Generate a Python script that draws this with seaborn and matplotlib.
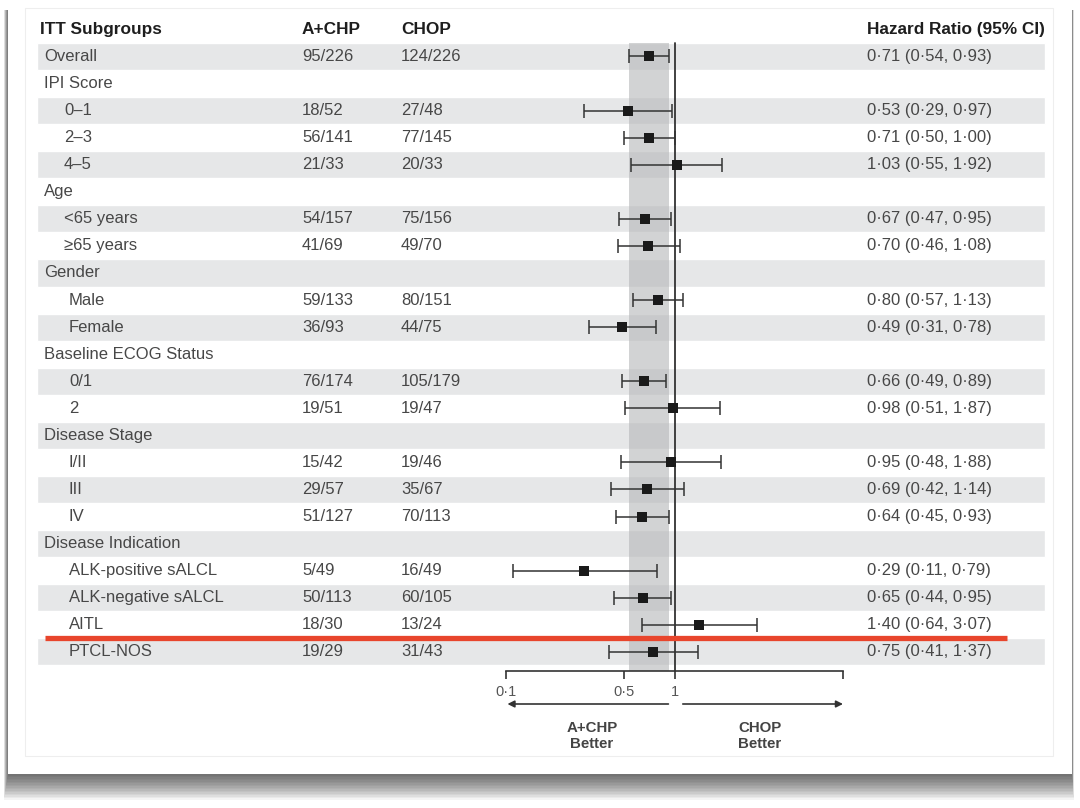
import numpy as np
import pandas as pd
import matplotlib
matplotlib.use("Agg")
import matplotlib.pyplot as plt
from matplotlib.patches import Rectangle
from matplotlib.lines import Line2D
import seaborn as sns

# data
subgroups = ["Overall", "IPI Score", "0–1", "2–3", "4–5", "Age", "<65 years", "≥65 years",
             "Gender", "Male", "Female", "Baseline ECOG Status", "0/1", "2",
             "Disease Stage", "I/II", "III", "IV", "Disease Indication",
             "ALK-positive sALCL", "ALK-negative sALCL", "AITL", "PTCL-NOS"]
indent = [0, 0, 20, 20, 20, 0, 20, 20, 0, 25, 25, 0, 25, 25, 0, 25, 25, 25, 0, 25, 25, 25, 25]
a_chp = ["95/226", "", "18/52", "56/141", "21/33", "", "54/157", "41/69", "", "59/133", "36/93",
         "", "76/174", "19/51", "", "15/42", "29/57", "51/127", "", "5/49", "50/113", "18/30", "19/29"]
chop = ["124/226", "", "27/48", "77/145", "20/33", "", "75/156", "49/70", "", "80/151", "44/75",
        "", "105/179", "19/47", "", "19/46", "35/67", "70/113", "", "16/49", "60/105", "13/24", "31/43"]
nan = np.nan
hr = [0.71, nan, 0.53, 0.71, 1.03, nan, 0.67, 0.70, nan, 0.80, 0.49, nan, 0.66, 0.98,
      nan, 0.95, 0.69, 0.64, nan, 0.29, 0.65, 1.40, 0.75]
ci_lo = [0.54, nan, 0.29, 0.50, 0.55, nan, 0.47, 0.46, nan, 0.57, 0.31, nan, 0.49, 0.51,
         nan, 0.48, 0.42, 0.45, nan, 0.11, 0.44, 0.64, 0.41]
ci_hi = [0.93, nan, 0.97, 1.00, 1.92, nan, 0.95, 1.08, nan, 1.13, 0.78, nan, 0.89, 1.87,
         nan, 1.88, 1.14, 0.93, nan, 0.79, 0.95, 3.07, 1.37]
xticks = [0.1, 0.5, 1, 10]
xtick_labels = ["0·1", "0·5", "1", ""]

df = pd.DataFrame({"label": subgroups, "hr": hr, "lo": ci_lo, "hi": ci_hi})
df["row"] = np.arange(len(df))
pts = df.dropna()

sns.set_theme(style="white")
plt.rcParams["font.family"] = ["Liberation Sans", "DejaVu Sans"]

W, H = 1080, 808
y0, dy = 56.5, 27.06  # pixel centre of first row, row pitch
ylim = ((H - y0) / dy, -y0 / dy)


def ry(px):
    # pixel y -> row units
    return (px - y0) / dy


fig = plt.figure(figsize=(10.8, 8.08), dpi=100)
fig.patch.set_facecolor("white")

# background axes in pixel-x / row-y units
bg = fig.add_axes([0, 0, 1, 1])
bg.set_xlim(0, W)
bg.set_ylim(*ylim)
bg.axis("off")

# card with soft shadow below
card_top, card_bot = 4, 774
for k in range(18):
    bot = card_bot + 1.5 * k
    bg.add_patch(Rectangle((8 - 0.25 * k, ry(card_top + 6)), 1064 + 0.35 * k,
                           ry(bot) - ry(card_top + 6),
                           fc="black", ec="none", alpha=0.045, zorder=0))
bg.add_patch(Rectangle((8, ry(card_top)), 1064, ry(card_bot) - ry(card_top),
                       fc="white", ec="none", zorder=1))
bg.add_patch(Rectangle((25, ry(card_top + 4)), 1028, ry(756) - ry(card_top + 4),
                       fc="white", ec="#eeeeee", lw=0.8, zorder=1))

# alternating row shading
shaded = df["row"][df["row"] % 2 == 0]
bg.barh(shaded, width=1045 - 37, left=37, height=1.0, color="#e6e7e8", zorder=2)

txt = "#474747"
hdr = "#1e1e1e"
fs = 12
fh = 12.4
bg.text(40, -1, "ITT Subgroups", fontsize=fh, fontweight="bold", color=hdr, va="center", zorder=3)
bg.text(302, -1, "A+CHP", fontsize=fh, fontweight="bold", color=hdr, va="center", zorder=3)
bg.text(401, -1, "CHOP", fontsize=fh, fontweight="bold", color=hdr, va="center", zorder=3)
bg.text(867, -1, "Hazard Ratio (95% CI)", fontsize=fh, fontweight="bold", color=hdr,
        va="center", zorder=3)

for i, r in df.iterrows():
    bg.text(44 + indent[i], i, r["label"], fontsize=fs, color=txt, va="center", zorder=3)
    bg.text(302, i, a_chp[i], fontsize=fs, color=txt, va="center", zorder=3)
    bg.text(401, i, chop[i], fontsize=fs, color=txt, va="center", zorder=3)
    if not np.isnan(r["hr"]):
        s = f"{r['hr']:.2f} ({r['lo']:.2f}, {r['hi']:.2f})".replace(".", "·")
        bg.text(867, i, s, fontsize=fs, color=txt, va="center", zorder=3)

# forest axes, log scale
ax = fig.add_axes([506 / W, 0, (843 - 506) / W, 1])
ax.patch.set_alpha(0)
ax.set_xscale("log")
ax.set_xlim(0.1, 10)
ax.set_ylim(*ylim)
axis_y = ry(671)

ax.fill_betweenx([-0.5, axis_y], df["lo"][0], df["hi"][0], color="#b5b6b8", alpha=0.6,
                 lw=0, zorder=1)
ax.plot([1, 1], [-0.5, axis_y], color="#333333", lw=1.3, zorder=2)

ax.errorbar(pts["hr"], pts["row"],
            xerr=[pts["hr"] - pts["lo"], pts["hi"] - pts["hr"]],
            fmt="none", ecolor="#333333", elinewidth=1.1, capsize=5.2, capthick=1.1, zorder=3)
sns.scatterplot(data=pts, x="hr", y="row", marker="s", s=50, color="#1a1a1a",
                linewidth=0, ax=ax, zorder=4, legend=False)

for sp in ["left", "top", "right"]:
    ax.spines[sp].set_visible(False)
ax.spines["bottom"].set_position(("data", axis_y))
ax.spines["bottom"].set_color("#333333")
ax.spines["bottom"].set_linewidth(1.2)
ax.set_xticks(xticks)
ax.set_xticklabels(xtick_labels)
ax.minorticks_off()
ax.tick_params(axis="x", direction="out", length=6, width=1.2, color="#333333",
               labelsize=10.5, labelcolor="#555555", pad=4, bottom=True)
ax.tick_params(axis="y", left=False, labelleft=False)
ax.set_xlabel("")
ax.set_ylabel("")

# direction arrows
arr_y = ry(704)
ax.annotate("", xy=(0.102, arr_y), xytext=(0.92, arr_y),
            arrowprops=dict(arrowstyle="-|>", color="#333333", lw=1.2,
                            mutation_scale=10, shrinkA=0, shrinkB=0))
ax.annotate("", xy=(10, arr_y), xytext=(1.12, arr_y),
            arrowprops=dict(arrowstyle="-|>", color="#333333", lw=1.2,
                            mutation_scale=10, shrinkA=0, shrinkB=0))
bg.text(592, ry(736), "A+CHP\nBetter", ha="center", va="center", fontsize=10.8,
        fontweight="bold", color="#444444", linespacing=1.25, zorder=3)
bg.text(760, ry(736), "CHOP\nBetter", ha="center", va="center", fontsize=10.8,
        fontweight="bold", color="#444444", linespacing=1.25, zorder=3)

# red highlight line on top of everything
red_y = ry(638)
fig.add_artist(Line2D([45, 1007], [red_y, red_y], transform=bg.transData,
                      color="#e8452c", lw=3.8, solid_capstyle="butt", zorder=10))

fig.savefig("out.png", dpi=100)
